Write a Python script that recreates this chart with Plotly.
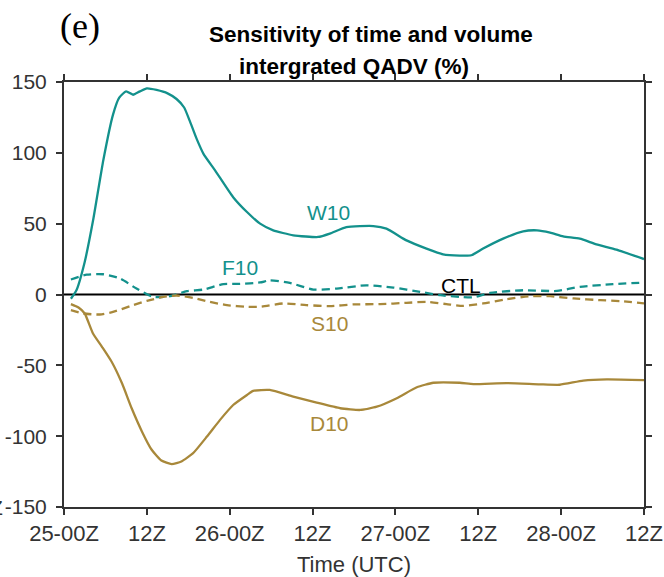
import plotly.graph_objects as go

# hours since 25-00Z
w10_h = [1, 1.8, 3, 4.2, 5.7, 7.1, 8, 9, 10, 11, 12, 13.4, 15, 16.3, 17.4, 18.2, 19.2, 20.2, 21.9, 24.5, 26.5, 28.4,
         30.3, 33.2, 36.8, 38.5, 40.9, 44.8, 46.7, 49.6, 52.5, 54.9, 57.3, 59, 60.7, 63.6, 66.5, 68.5, 70.4, 72.3,
         74.7, 77.1, 80, 84]
w10_v = [-3, 3, 23, 52, 95, 127, 139, 143.4, 141, 143.4, 145.5, 144.4, 142, 138, 132, 122.7, 110, 99.3, 87.5, 68.7,
         58.2, 50, 45.3, 41.8, 40.6, 43, 47.6, 48.3, 46.5, 38.2, 32.4, 28.4, 27.5, 27.7, 32.4, 39.4, 44.6, 45.3, 43.7,
         41, 39.4, 35.4, 31.7, 25]

f10_h = [1, 3.3, 5.7, 8.1, 10.5, 12.9, 15.3, 17.8, 20.2, 23.1, 25.5, 28.4, 29.8, 32.7, 36.1, 39.5, 43.8, 47.7, 51.6,
         54.5, 57.3, 59.3, 61.7, 66.5, 71.4, 74.7, 79.5, 84]
f10_v = [10.6, 14, 14.3, 11.3, 4.2, -1.7, -1.2, 2.3, 3.5, 7.3, 7.5, 8.5, 10, 8.2, 3.5, 4.2, 6.5, 4.9, 1.8, -0.5, -1.7,
         -2, 1.1, 3, 2.5, 5.4, 7.3, 8.4]

s10_h = [1, 2.8, 5.2, 7.1, 9.6, 12, 14.4, 16.3, 18.7, 21.1, 23.6, 26.5, 28.4, 31.8, 35.1, 38.5, 41.9, 45.8, 49.6,
         52.5, 55.4, 57.8, 60.7, 64.1, 67.5, 70.4, 73.8, 77.7, 80.6, 84]
s10_v = [-11, -13.4, -14.1, -12.3, -8.2, -4.5, -1.7, -0.7, -2.4, -5.2, -7.5, -8.7, -8.7, -6.3, -7.5, -8.2, -7, -6.8,
         -5.9, -5.2, -6.8, -8, -6.3, -3.3, -1.2, -1.2, -2.8, -4, -4.7, -6.3]

d10_h = [1, 2.1, 3, 4.2, 5.5, 6.9, 8.4, 9.8, 11.3, 12.7, 14.1, 15.6, 17, 18.7, 20.7, 22.6, 24.5, 26.5, 27.4, 29.8,
         33.2, 36.6, 40, 42.9, 45.3, 48.2, 51.1, 53.5, 57.3, 59.3, 64.1, 68.9, 71.8, 75.2, 78.6, 84]
d10_v = [-6.8, -9.2, -13.4, -27.5, -36.9, -47.5, -62.7, -80.3, -96.8, -109.6, -117.2, -119.7, -117.9, -112, -100.3,
         -88.5, -78, -70.9, -68, -67.4, -72.1, -76.3, -80.3, -81.5, -79.2, -73.2, -65.5, -62.3, -62.3, -63.2, -62.5,
         -63.4, -63.7, -60.8, -59.9, -60.4]

ctl_h = [0, 84]
ctl_v = [0, 0]

tick_vals = [0, 12, 24, 36, 48, 60, 72, 84]
tick_text = ["25-00Z", "12Z", "26-00Z", "12Z", "27-00Z", "12Z", "28-00Z", "12Z"]
y_ticks = [-150, -100, -50, 0, 50, 100, 150]
y_tick_text = ["-150", "-100", "-50", "0", "50", "100", "150"]

labels = [("W10", 38.3, 58), ("F10", 25.5, 19), ("CTL", 57.5, 6.5), ("S10", 38.5, -20.5), ("D10", 38.5, -91)]

TEAL = "#13918c"
GOLD = "#a8883a"
AX = "#333333"

fig = go.Figure()
fig.add_trace(go.Scatter(x=ctl_h, y=ctl_v, mode="lines", line=dict(color="black", width=2)))
fig.add_trace(go.Scatter(x=f10_h, y=f10_v, mode="lines", line=dict(color=TEAL, width=2.3, dash="8px,5px", shape="spline", smoothing=0.6)))
fig.add_trace(go.Scatter(x=s10_h, y=s10_v, mode="lines", line=dict(color=GOLD, width=2.3, dash="8px,5px", shape="spline", smoothing=0.6)))
fig.add_trace(go.Scatter(x=w10_h, y=w10_v, mode="lines", line=dict(color=TEAL, width=2.3, shape="spline", smoothing=0.5)))
fig.add_trace(go.Scatter(x=d10_h, y=d10_v, mode="lines", line=dict(color=GOLD, width=2.3, shape="spline", smoothing=0.5)))

label_colors = {"W10": TEAL, "F10": TEAL, "CTL": "black", "S10": GOLD, "D10": GOLD}
for name, x, y in labels:
    fig.add_annotation(x=x, y=y, text=name, showarrow=False,
                       font=dict(family="Liberation Sans, Arial", size=21, color=label_colors[name]))

fig.add_annotation(xref="paper", yref="paper", x=-0.01, y=1.132, text="(e)", showarrow=False,
                   xanchor="left", yanchor="middle",
                   font=dict(family="Liberation Serif, Times New Roman", size=36, color="black"))
fig.add_annotation(xref="paper", yref="paper", x=0.529, y=1.111, text="<b>Sensitivity of time and volume</b>",
                   showarrow=False, xanchor="center", yanchor="middle",
                   font=dict(family="Liberation Sans, Arial", size=22.5, color="black"))
fig.add_annotation(xref="paper", yref="paper", x=0.50, y=1.037, text="<b>intergrated QADV (%)</b>",
                   showarrow=False, xanchor="center", yanchor="middle",
                   font=dict(family="Liberation Sans, Arial", size=22.5, color="black"))
fig.add_annotation(xref="paper", yref="y", x=-0.1015, y=-150, text="Z", showarrow=False,
                   xanchor="right", yanchor="middle",
                   font=dict(family="Liberation Sans, Arial", size=21, color=AX))

fig.update_layout(
    width=664, height=577,
    margin=dict(l=64, r=20, t=82, b=70),
    paper_bgcolor="white", plot_bgcolor="white",
    showlegend=False,
    font=dict(family="Liberation Sans, Arial", size=22, color=AX),
)
fig.update_xaxes(range=[0, 84], tickvals=tick_vals, ticktext=tick_text, ticks="outside", ticklen=6,
                 tickwidth=2, tickcolor=AX, showline=True, linecolor=AX, linewidth=2,
                 mirror="ticks", showgrid=False, zeroline=False, ticklabelstandoff=0, automargin=False,
                 title=dict(text="Time (UTC)", font=dict(size=22, color=AX), standoff=13),
                 tickfont=dict(size=22, color=AX))
fig.update_yaxes(range=[-150, 150], tickvals=y_ticks, ticktext=y_tick_text, ticks="outside", ticklen=6,
                 tickwidth=2, tickcolor=AX, showline=True, linecolor=AX, linewidth=2, mirror="ticks",
                 showgrid=False, zeroline=False, ticklabelstandoff=5, automargin=False,
                 tickfont=dict(size=21, color=AX))

fig.write_html("out.html")
